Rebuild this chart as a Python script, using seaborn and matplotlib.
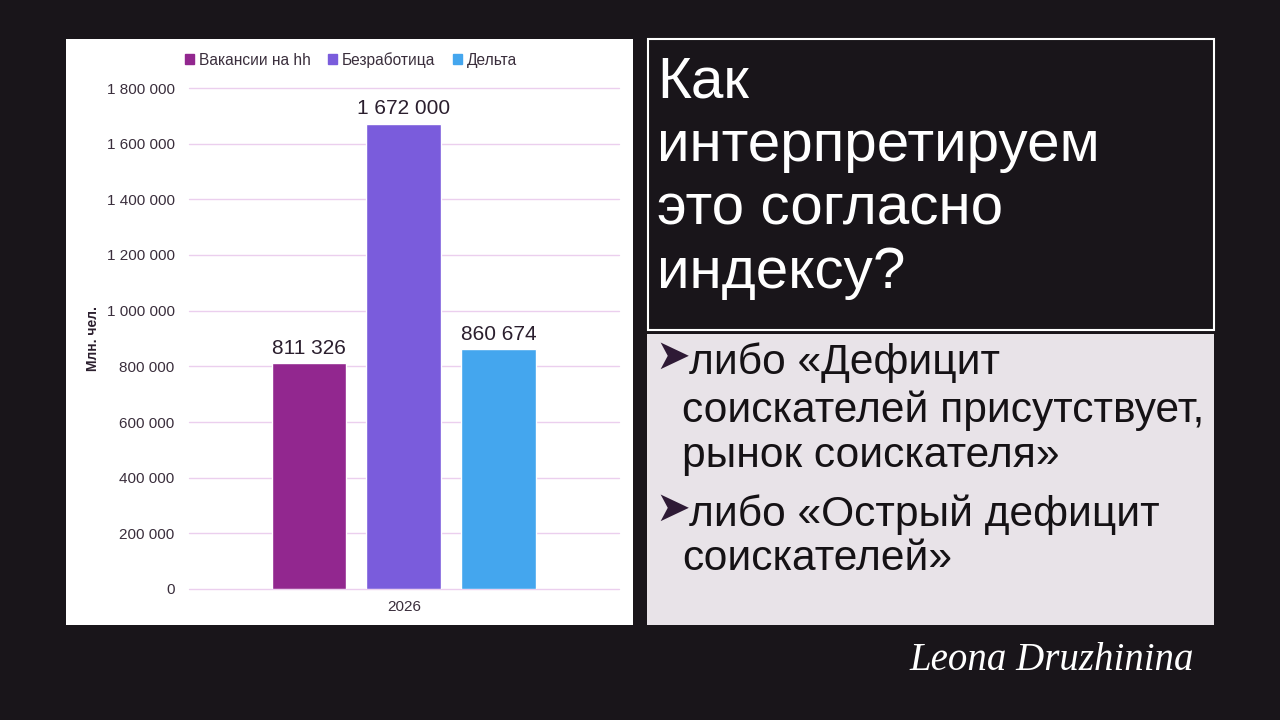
import matplotlib.pyplot as plt
import matplotlib.patches as mpatches
import pandas as pd
import seaborn as sns

# data
years = ["2026"]
series = ["Вакансии на hh", "Безработица", "Дельта"]
values = [811326, 1672000, 860674]
colors = ["#92278F", "#7A5CDC", "#44A6EE"]
yticks = [0, 200000, 400000, 600000, 800000, 1000000, 1200000, 1400000, 1600000, 1800000]

title_lines = ["Как", "интерпретируем", "это согласно", "индексу?"]
bullets = [["либо «Дефицит", "соискателей присутствует,", "рынок соискателя»"],
           ["либо «Острый дефицит", "соискателей»"]]
signature = "Leona Druzhinina"

df = pd.DataFrame({"year": years * len(series), "series": series, "value": values})

BG = "#19151A"
TXT = "#3A2E3C"
W, H = 1280, 720


def fx(x):
    return x / W


def fy(y):
    return 1 - y / H


sns.set_theme(style="white")
plt.rcParams["font.family"] = ["Liberation Sans", "DejaVu Sans"]

fig = plt.figure(figsize=(12.8, 7.2), dpi=100, facecolor=BG)

# panels (behind the axes)
fig.patches.append(mpatches.Rectangle((fx(66), fy(625)), fx(633 - 66), (625 - 39) / H, zorder=-2,
                                      transform=fig.transFigure, facecolor="white", edgecolor="none"))
fig.patches.append(mpatches.Rectangle((fx(647.5), fy(330)), fx(1214 - 647.5), (330 - 39) / H, zorder=-2,
                                      transform=fig.transFigure, facecolor=BG, edgecolor="white", lw=1.5))
fig.patches.append(mpatches.Rectangle((fx(647), fy(625)), fx(1214 - 647), (625 - 334) / H, zorder=-2,
                                      transform=fig.transFigure, facecolor="#E8E3E8", edgecolor="none"))

ax = fig.add_axes([fx(188.5), fy(589), fx(619 - 188.5), (589 - 88) / H])
ax.set_facecolor("none")
sns.barplot(data=df, x="year", y="value", hue="series", palette=colors,
            width=0.66, gap=0.21, saturation=1, ax=ax, legend=False)
ax.set_xlim(-0.5, 0.5)
ax.set_ylim(0, 1800000)
ax.set_yticks(yticks)
ax.set_yticklabels([f"{v:,}".replace(",", " ") for v in yticks])
ax.yaxis.grid(True, color="#EBCFEE", lw=1)
for gl in ax.get_ygridlines():
    gl.set_clip_on(False)
ax.set_axisbelow(True)
for s in ax.spines.values():
    s.set_visible(False)
ax.tick_params(axis="both", length=0, labelsize=11, labelcolor=TXT)
ax.tick_params(axis="y", pad=10)
ax.tick_params(axis="x", pad=8)
ax.set_xlabel("")
ax.set_ylabel("Млн. чел.", fontsize=10, fontweight="bold", color="#2B1F2E")
ax.yaxis.set_label_coords(-0.205, 0.5)

for cont in ax.containers:
    ax.bar_label(cont, labels=[f"{v:,.0f}".replace(",", " ") for v in cont.datavalues],
                 padding=4, fontsize=15, color="#2B1F2E")

handles = [mpatches.Patch(color=c, label=s) for c, s in zip(colors, series)]
fig.legend(handles=handles, loc="center", bbox_to_anchor=(fx(351), fy(60)), ncol=3,
           frameon=False, fontsize=11.2, handlelength=0.6, handleheight=0.6,
           handletextpad=0.3, columnspacing=1.1, labelcolor=TXT)

# title box
for i, line in enumerate(title_lines):
    fig.text(fx(657), fy(97 + i * 63.7), line, color="white", fontsize=42, va="baseline")

# bullets
baselines = [[374, 422, 467], [526, 570]]
for para, bl in zip(bullets, baselines):
    fig.text(fx(673), fy(bl[0] - 17), "➤", family=["DejaVu Sans"], fontsize=30,
             color="#2E1A35", ha="center", va="center")
    for j, (line, b) in enumerate(zip(para, bl)):
        fig.text(fx(689 if j == 0 else 682), fy(b), line, color="#151215", fontsize=30.6,
                 va="baseline")

fig.text(fx(1052), fy(660), signature, color="white", fontsize=28, style="italic",
         family=["Liberation Serif"], ha="center", va="center")

fig.savefig("out.png", dpi=100, facecolor=BG)
